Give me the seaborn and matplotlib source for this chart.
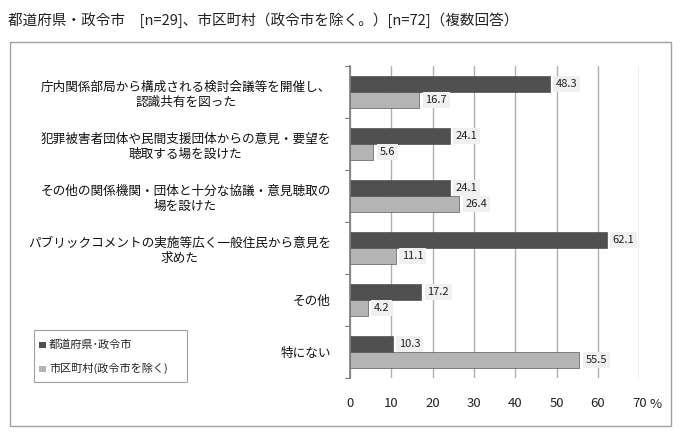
import matplotlib
matplotlib.use("Agg")
import matplotlib.pyplot as plt
import seaborn as sns
import pandas as pd
from matplotlib.patches import Rectangle

categories = [
    "庁内関係部局から構成される検討会議等を開催し、\n認識共有を図った",
    "犯罪被害者団体や民間支援団体からの意見・要望を\n聴取する場を設けた",
    "その他の関係機関・団体と十分な協議・意見聴取の\n場を設けた",
    "パブリックコメントの実施等広く一般住民から意見を\n求めた",
    "その他",
    "特にない",
]
series_names = ["都道府県・政令市", "市区町村（政令市を除く）"]
pref_values = [48.3, 24.1, 24.1, 62.1, 17.2, 10.3]
muni_values = [16.7, 5.6, 26.4, 11.1, 4.2, 55.5]
x_ticks = [0, 10, 20, 30, 40, 50, 60, 70]

sns.set_theme(style="white")
plt.rcParams["font.family"] = ["Noto Sans CJK JP", "DejaVu Sans"]

df = pd.DataFrame({
    "category": categories * 2,
    "series": [series_names[0]] * len(categories) + [series_names[1]] * len(categories),
    "value": pref_values + muni_values,
})

fig = plt.figure(figsize=(6.8, 4.37), dpi=100)
ax = fig.add_axes([0.515, 0.135, 0.425, 0.714])

palette = {series_names[0]: "#505050", series_names[1]: "#b4b4b4"}
sns.barplot(data=df, y="category", x="value", hue="series", orient="h",
            palette=palette, width=0.62, ax=ax, legend=False,
            edgecolor="#3a3a3a", linewidth=0.4)

ax.set_xlim(0, 70)
ax.set_ylim(len(categories) - 0.5, -0.5)
ax.set_xticks(x_ticks)
ax.set_xticklabels([str(t) for t in x_ticks], fontsize=9.5, color="#222222")
ax.xaxis.grid(True, color="#b0b0b0", linewidth=1.0)
ax.set_axisbelow(True)
ax.set_xlabel("")
ax.set_ylabel("")
for s in ["top", "right"]:
    ax.spines[s].set_visible(False)
ax.spines["bottom"].set_visible(False)
ax.spines["left"].set_color("#808080")
ax.tick_params(axis="x", length=0, pad=14)
ax.set_yticks(range(len(categories)))
ax.set_yticklabels(categories, fontsize=9.1, color="#111111", multialignment="center")
ax.tick_params(axis="y", length=0, pad=14)
for i in range(len(categories) + 1):
    ax.plot([-1.2, 0], [i - 0.5, i - 0.5], color="#808080", lw=0.8, clip_on=False)

for cont in ax.containers:
    for bar in cont:
        w = bar.get_width()
        y = bar.get_y() + bar.get_height() / 2
        ax.text(w + 1.5, y, f"{w:.1f}", va="center", ha="left", fontsize=8,
                color="#222222",
                bbox=dict(boxstyle="square,pad=0.25", fc="#f0f0f0", ec="none"))

fig.text(0.012, 0.955, "都道府県・政令市　[n=29]、市区町村（政令市を除く。）[n=72]（複数回答）",
         fontsize=10.5, color="#222222", va="center", ha="left")
fig.text(0.955, 0.075, "%", fontsize=9.5, color="#222222", va="center")

# outer frame
fig.patches.append(Rectangle((0.015, 0.025), 0.972, 0.88, transform=fig.transFigure,
                             fill=False, ec="#a0a0a0", lw=1.0))

# legend box
lx, ly, lw_, lh = 0.05, 0.125, 0.225, 0.12
fig.patches.append(Rectangle((lx, ly), lw_, lh, transform=fig.transFigure,
                             fill=True, fc="white", ec="#a0a0a0", lw=0.8))
for k, (name, col) in enumerate(zip(series_names, ["#505050", "#b4b4b4"])):
    yy = ly + lh * (0.72 - 0.45 * k)
    fig.patches.append(Rectangle((lx + 0.008, yy - 0.008), 0.009, 0.014,
                                 transform=fig.transFigure, fc=col, ec="none"))
    fig.text(lx + 0.022, yy, name.replace("・", "･").replace("（", "(").replace("）", ")"),
             fontsize=8, va="center", ha="left", color="#222222")

fig.savefig("out.png", dpi=100, facecolor="white")
